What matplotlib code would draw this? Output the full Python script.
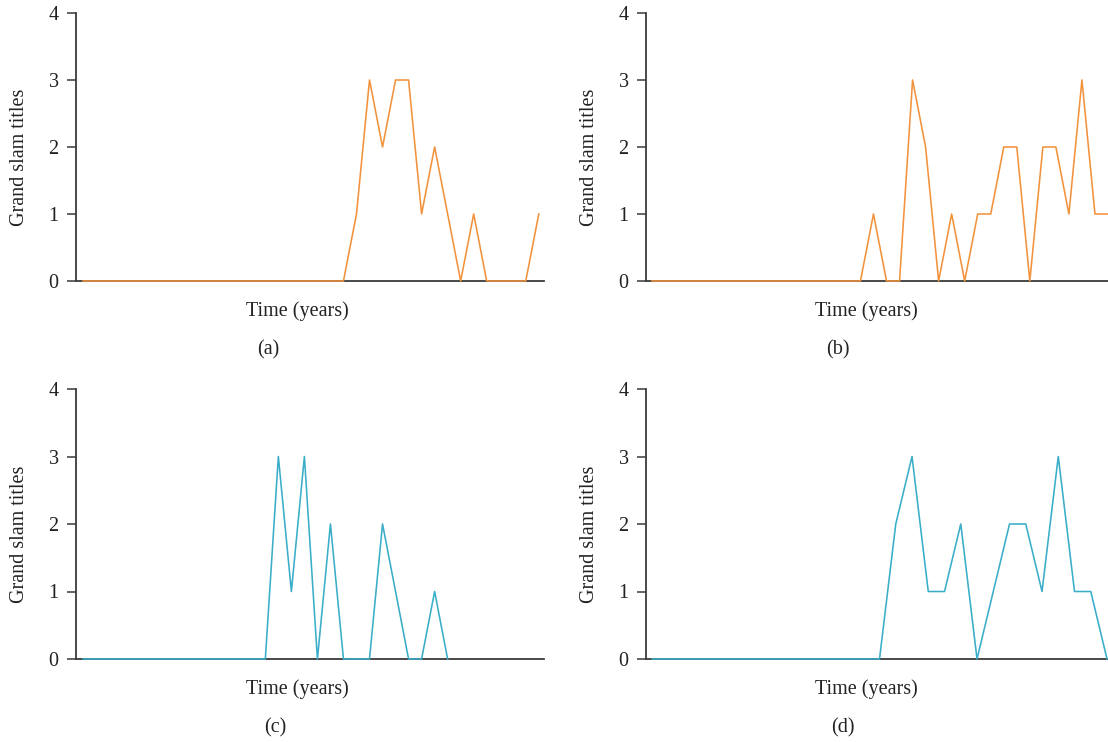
import numpy as np
from matplotlib import pyplot as plt

plt.rcParams['font.family'] = ['Liberation Serif', 'DejaVu Serif']

#grand slam titles per year for each panel
titles_a = [0, 0, 0, 0, 0, 0, 0, 0, 0, 0, 0, 0, 0, 0, 0, 0, 0, 0, 0, 0, 0,
            1, 3, 2, 3, 3, 1, 2, 1, 0, 1, 0, 0, 0, 0, 1]
titles_b = [0, 0, 0, 0, 0, 0, 0, 0, 0, 0, 0, 0, 0, 0, 0, 0, 0,
            1, 0, 0, 3, 2, 0, 1, 0, 1, 1, 2, 2, 0, 2, 2, 1, 3, 1, 1]
titles_c = [0, 0, 0, 0, 0, 0, 0, 0, 0, 0, 0, 0, 0, 0, 0,
            3, 1, 3, 0, 2, 0, 0, 0, 2, 1, 0, 0, 1, 0]
titles_d = [0, 0, 0, 0, 0, 0, 0, 0, 0, 0, 0, 0, 0, 0, 0,
            2, 3, 1, 1, 2, 0, 1, 2, 2, 1, 3, 1, 1, 0]
panel_labels = ['(a)', '(b)', '(c)', '(d)']
y_ticks = [0, 1, 2, 3, 4]

orange = '#f2923c'
teal = '#3aadc9'
spine_col = '#3a3a3a'

W, H = 1108, 742
fig = plt.figure(figsize=(W / 100, H / 100), dpi=100)

#axes boxes in pixels: left, right, top (y=4), bottom (y=0)
boxes = [(76, 544, 13, 281), (646, 1108, 13, 281),
         (76, 544, 389, 659), (646, 1108, 389, 659)]
series = [titles_a, titles_b, titles_c, titles_d]
colors = [orange, orange, teal, teal]
xlims = [(-0.54, 35.4), (-0.46, 35.0), (-0.54, 35.4), (-0.37, 28.06)]
# text centres: (time label x, panel label x)
text_x = [(297, 268), (866, 838), (297, 275), (866, 843)]

for box, ys, c, xl, tx, lab in zip(boxes, series, colors, xlims, text_x, panel_labels):
    l, r, t, b = box
    ax = fig.add_axes([l / W, 1 - b / H, (r - l) / W, (b - t) / H])
    ax.plot(np.arange(len(ys)), ys, color=c, lw=1.15, zorder=3, clip_on=False)
    ax.set_xlim(*xl)
    ax.set_ylim(0, 4)
    ax.set_yticks(y_ticks)
    ax.set_xticks([])
    ax.spines['top'].set_visible(False)
    ax.spines['right'].set_visible(False)
    for s in ['left', 'bottom']:
        ax.spines[s].set_color(spine_col)
        ax.spines[s].set_linewidth(1.3)
    ax.tick_params(axis='y', direction='out', length=6.5, width=1.1,
                   color=spine_col, pad=6, labelsize=14.5, labelcolor='#222222')
    fig.text((l - 56) / W, 1 - ((t + b) / 2 + 10) / H, 'Grand slam titles',
             rotation=90, ha='center', va='center', fontsize=14.5, color='#222222')
    fig.text(tx[0] / W, 1 - (b + 30) / H, 'Time (years)',
             ha='center', va='center', fontsize=14.5, color='#222222')
    fig.text(tx[1] / W, 1 - (b + 69) / H, lab,
             ha='center', va='center', fontsize=14.5, color='#222222')

plt.savefig('out.png', dpi=100)
